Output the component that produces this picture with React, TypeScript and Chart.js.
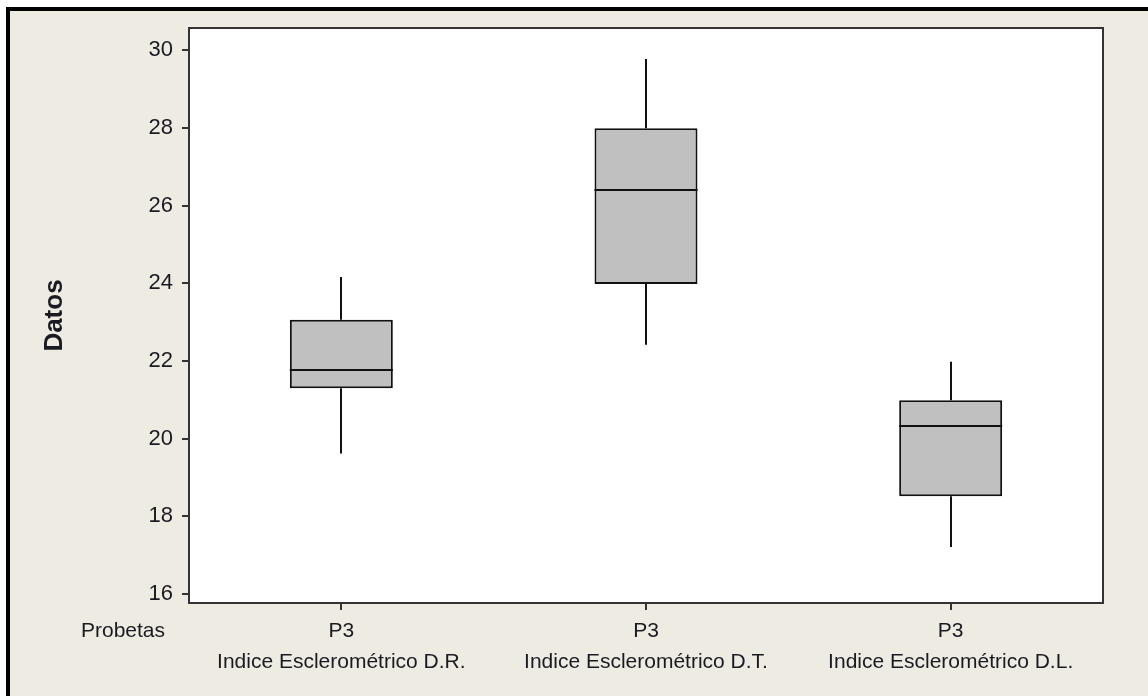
import React, { useEffect, useRef } from "react";
import { Chart, registerables } from "chart.js";

Chart.register(...registerables);

// ---- Data ----
const categories: string[][] = [
  ["P3", "Indice Esclerométrico D.R."],
  ["P3", "Indice Esclerométrico D.T."],
  ["P3", "Indice Esclerométrico D.L."],
];
const whiskerLow = [19.62, 22.42, 17.21];
const q1 = [21.3, 23.98, 18.52];
const median = [21.76, 26.4, 20.32];
const q3 = [23.06, 27.99, 20.99];
const whiskerHigh = [24.16, 29.77, 21.98];
const yTicks = [16, 18, 20, 22, 24, 26, 28, 30];
const yMin = 15.77;
const yMax = 30.57;
const yTitle = "Datos";
const xGroupLabel = "Probetas";

const FONT = '"Liberation Sans", Arial, sans-serif';
const TEXT = "#1a1a22";

export default function App() {
  const ref = useRef<HTMLCanvasElement | null>(null);

  useEffect(() => {
    if (!ref.current) return;

    const boxPlugin = {
      id: "boxExtras",
      beforeDatasetsDraw(chart: any) {
        const { ctx, chartArea } = chart;
        ctx.save();
        ctx.fillStyle = "#ffffff";
        ctx.fillRect(chartArea.left, chartArea.top, chartArea.right - chartArea.left, chartArea.bottom - chartArea.top);
        ctx.restore();
      },
      afterDatasetsDraw(chart: any) {
        const { ctx } = chart;
        const xs = chart.scales.x;
        const ys = chart.scales.y;
        const meta = chart.getDatasetMeta(0);
        ctx.save();
        ctx.strokeStyle = "#111111";
        ctx.lineWidth = 2;
        for (let i = 0; i < categories.length; i++) {
          const x = Math.round(xs.getPixelForValue(i));
          // whiskers
          ctx.beginPath();
          ctx.moveTo(x, ys.getPixelForValue(whiskerHigh[i]));
          ctx.lineTo(x, ys.getPixelForValue(q3[i]));
          ctx.moveTo(x, ys.getPixelForValue(q1[i]));
          ctx.lineTo(x, ys.getPixelForValue(whiskerLow[i]));
          ctx.stroke();
          // median
          const bar = meta.data[i];
          const half = bar.width / 2;
          const ym = Math.round(ys.getPixelForValue(median[i]));
          ctx.beginPath();
          ctx.moveTo(bar.x - half, ym);
          ctx.lineTo(bar.x + half, ym);
          ctx.stroke();
        }
        ctx.restore();
      },
      afterDraw(chart: any) {
        const { ctx, chartArea } = chart;
        ctx.save();
        ctx.strokeStyle = "#333333";
        ctx.lineWidth = 2;
        ctx.strokeRect(chartArea.left, chartArea.top, chartArea.right - chartArea.left, chartArea.bottom - chartArea.top);
        ctx.fillStyle = TEXT;
        ctx.font = `21px ${FONT}`;
        ctx.textAlign = "right";
        ctx.textBaseline = "middle";
        ctx.fillText(xGroupLabel, chartArea.left - 24, chartArea.bottom + 7 + 5 + 31.5 / 2);
        ctx.restore();
      },
    };

    const chart = new Chart(ref.current, {
      type: "bar",
      data: {
        labels: categories,
        datasets: [
          {
            data: q1.map((v, i) => [v, q3[i]]) as any,
            backgroundColor: "#C0C0C0",
            borderColor: "#111111",
            borderWidth: 2,
            borderSkipped: false,
            categoryPercentage: 1,
            barPercentage: 0.338,
          },
        ],
      },
      options: {
        responsive: false,
        animation: false,
        layout: { padding: { top: 28, right: 45, left: 0, bottom: 0 } },
        plugins: {
          legend: { display: false },
          tooltip: { enabled: false },
        },
        scales: {
          x: {
            type: "category",
            offset: true,
            grid: {
              display: true,
              drawOnChartArea: false,
              offset: false,
              tickLength: 7,
              color: "#333333",
              lineWidth: 2,
            },
            border: { display: false },
            ticks: {
              color: TEXT,
              font: { family: FONT, size: 21, lineHeight: 1.5 },
              padding: 5,
              maxRotation: 0,
              autoSkip: false,
            },
            afterFit(scale: any) {
              scale.height = 93;
            },
          },
          y: {
            type: "linear",
            min: yMin,
            max: yMax,
            grid: {
              display: true,
              drawOnChartArea: false,
              tickLength: 7,
              color: "#333333",
              lineWidth: 2,
            },
            border: { display: false },
            ticks: {
              color: TEXT,
              font: { family: FONT, size: 22 },
              padding: 9,
            },
            afterBuildTicks(scale: any) {
              scale.ticks = yTicks.map((v) => ({ value: v }));
            },
            title: {
              display: true,
              text: yTitle,
              color: TEXT,
              font: { family: FONT, size: 26, weight: "bold", lineHeight: 1.2 },
              padding: { top: 39, bottom: 0 },
            },
            afterFit(scale: any) {
              scale.width = 189;
            },
          },
        },
      },
      plugins: [boxPlugin],
    });

    return () => chart.destroy();
  }, []);

  return (
    <div
      style={{
        position: "fixed",
        left: 0,
        top: 0,
        width: 1148,
        height: 696,
        background: "#ffffff",
        overflow: "hidden",
      }}
    >
      <div
        style={{
          position: "absolute",
          left: 6,
          top: 7,
          right: 0,
          bottom: 0,
          borderLeft: "4px solid #000",
          borderTop: "4px solid #000",
          background: "#EEEBE2",
        }}
      />
      <canvas
        ref={ref}
        width={1148}
        height={696}
        style={{ position: "absolute", left: 0, top: 0, width: 1148, height: 696 }}
      />
    </div>
  );
}
